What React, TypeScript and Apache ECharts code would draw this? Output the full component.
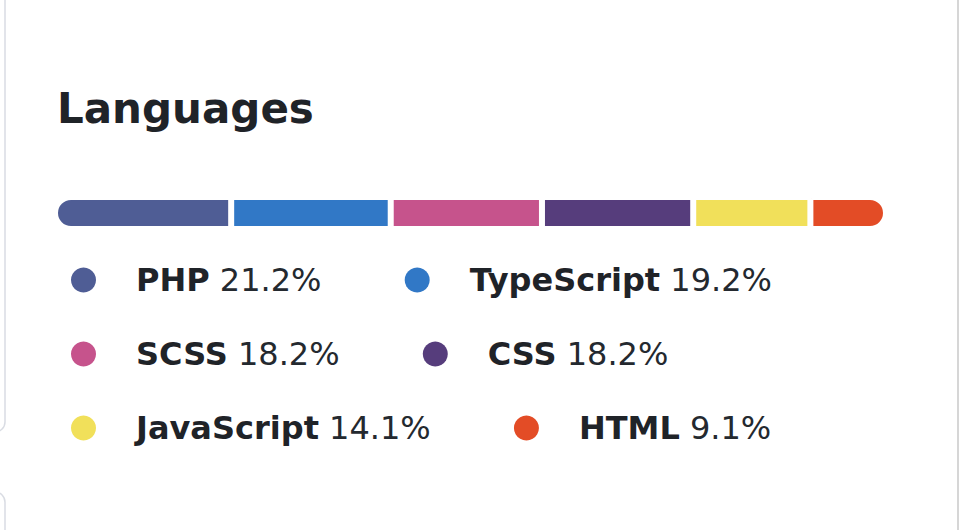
import React, { useEffect, useRef } from "react";
import * as echarts from "echarts";

const languages = ["PHP", "TypeScript", "SCSS", "CSS", "JavaScript", "HTML"];
const percents = [21.2, 19.2, 18.2, 18.2, 14.1, 9.1];
const colors = ["#4F5D95", "#3178C6", "#C6538C", "#563D7C", "#F1E05A", "#E34C26"];
const titleText = "Languages";

const FONT = "'DejaVu Sans', sans-serif";

export default function App() {
  const ref = useRef<HTMLDivElement>(null);
  useEffect(() => {
    document.body.style.margin = "0";
    const chart = echarts.init(ref.current!, null, { renderer: "svg" });
    const last = languages.length - 1;
    const series = languages.map((name, i) => ({
      name,
      type: "bar",
      stack: "total",
      barWidth: 32,
      data: [percents[i]],
      itemStyle: {
        color: colors[i],
        borderColor: "#ffffff",
        borderWidth: 3,
        borderRadius: i === 0 ? [15, 0, 0, 15] : i === last ? [0, 15, 15, 0] : 0,
      },
      emphasis: { disabled: true },
    }));
    chart.setOption({
      animation: false,
      backgroundColor: "#ffffff",
      title: {
        text: titleText,
        left: 57,
        top: 87,
        padding: 0,
        textStyle: {
          fontFamily: FONT,
          fontWeight: "bold",
          fontSize: 42,
          color: "#1f2328",
        },
      },
      grid: { left: 55, right: 73, top: 197, height: 32 },
      xAxis: { type: "value", min: 0, max: 100, show: false },
      yAxis: { type: "category", data: ["lang"], show: false },
      legend: {
        left: 66,
        top: 259,
        width: 880,
        orient: "horizontal",
        icon: "circle",
        itemWidth: 25,
        itemHeight: 25,
        itemGap: 42,
        selectedMode: false,
        itemStyle: { borderWidth: 0 },
        data: languages,
        formatter: (name: string) => {
          const i = languages.indexOf(name);
          return `{n|${name}}{v| ${percents[i].toFixed(1)}%}{s|\u00a0}`;
        },
        textStyle: {
          rich: {
            n: {
              fontFamily: FONT,
              fontWeight: "bold",
              fontSize: 32,
              color: "#1f2328",
              padding: [0, 0, 0, 35],
            },
            v: {
              fontFamily: FONT,
              fontWeight: "normal",
              fontSize: 32,
              color: "#24292f",
            },
            s: {
              fontFamily: FONT,
              fontSize: 32,
              color: "#ffffff",
              padding: [0, 0, 0, 31],
            },
          },
        },
      },
      graphic: [
        {
          type: "rect",
          silent: true,
          shape: { x: -20, y: -20, width: 25, height: 452, r: 10 },
          style: { fill: "none", stroke: "#d9dce3", lineWidth: 1.5 },
        },
        {
          type: "rect",
          silent: true,
          shape: { x: -20, y: 492, width: 25, height: 100, r: 10 },
          style: { fill: "none", stroke: "#d9dce3", lineWidth: 1.5 },
        },
        {
          type: "line",
          silent: true,
          shape: { x1: 958, y1: 0, x2: 958, y2: 530 },
          style: { stroke: "#c8c8c8", lineWidth: 1.5 },
        },
      ],
      series,
    });
    return () => chart.dispose();
  }, []);
  return <div ref={ref} style={{ width: 959, height: 530 }} />;
}
